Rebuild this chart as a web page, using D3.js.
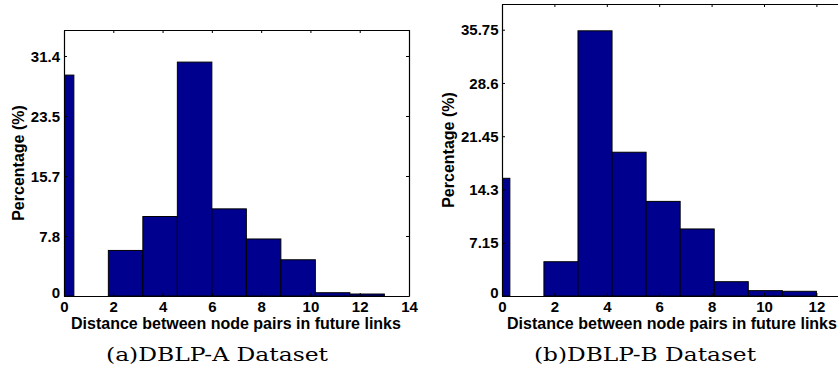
<!DOCTYPE html>
<html><head><meta charset="utf-8">
<script src="https://cdn.jsdelivr.net/npm/d3@7/dist/d3.min.js"></script>
<style>body{margin:0;background:#fff;overflow:hidden}svg{display:block}</style>
</head><body>
<svg id="c" width="838" height="370"></svg>
<script>
// ---- data ----
const binEdgesA = [-1, 0.4, 1.8, 3.2, 4.6, 6.0, 7.4, 8.8, 10.2, 11.6, 13.0];
const valuesA   = [28.9, 0, 5.96, 10.4, 30.6, 11.4, 7.46, 4.74, 0.43, 0.26];
const yTicksA   = [0, 7.85, 15.7, 23.55, 31.4];
const yLabelsA  = ["0", "7.8", "15.7", "23.5", "31.4"];
const xTicksA   = [0, 2, 4, 6, 8, 10, 12, 14];

const binEdgesB = [-1, 0.3, 1.6, 2.9, 4.2, 5.5, 6.8, 8.1, 9.4, 10.7, 12.0];
const valuesB   = [15.8, 0, 4.6, 35.6, 19.3, 12.7, 9.0, 1.92, 0.72, 0.63];
const yTicksB   = [0, 7.15, 14.3, 21.45, 28.6, 35.75];
const yLabelsB  = ["0", "7.15", "14.3", "21.45", "28.6", "35.75"];
const xTicksB   = [0, 2, 4, 6, 8, 10, 12];

const xLabel = "Distance between node pairs in future links";
const yLabel = "Percentage (%)";
const captions = ["(a)DBLP-A Dataset", "(b)DBLP-B Dataset"];

const svg = d3.select("#c");
const FONT = "Liberation Sans, Arial, Helvetica, sans-serif";

function panel(id, cfg) {
  const {left, right, top, bottom, xmax, ymax, edges, vals, yT, yL, xT, cap, capX} = cfg;
  const x = d3.scaleLinear().domain([0, xmax]).range([left, right]);
  const y = d3.scaleLinear().domain([0, ymax]).range([bottom, top]);
  const g = svg.append("g");
  g.append("clipPath").attr("id", id).append("rect")
    .attr("x", left).attr("y", top).attr("width", right - left).attr("height", bottom - top);
  const bins = vals.map((v, i) => ({x0: edges[i], x1: edges[i + 1], v}));
  g.append("g").attr("clip-path", `url(#${id})`).selectAll("rect").data(bins).join("rect")
    .attr("x", d => x(d.x0)).attr("width", d => x(d.x1) - x(d.x0))
    .attr("y", d => y(d.v)).attr("height", d => y(0) - y(d.v))
    .attr("fill", "#00008F").attr("stroke", "#000").attr("stroke-width", 1);

  const ax = g.append("g").attr("transform", `translate(0,${bottom})`)
    .call(d3.axisBottom(x).tickValues(xT).tickSizeInner(-3).tickSizeOuter(0).tickPadding(5.5));
  const ay = g.append("g").attr("transform", `translate(${left},0)`)
    .call(d3.axisLeft(y).tickValues(yT).tickFormat((d, i) => yL[i]).tickSizeInner(-3).tickSizeOuter(0).tickPadding(cfg.yPad));
  const axT = g.append("g").attr("transform", `translate(0,${top})`)
    .call(d3.axisTop(x).tickValues(xT).tickSizeInner(-3).tickSizeOuter(0).tickFormat(""));
  const ayR = g.append("g").attr("transform", `translate(${right},0)`)
    .call(d3.axisRight(y).tickValues(yT).tickSizeInner(-3).tickSizeOuter(0).tickFormat(""));
  [ax, ay, axT, ayR].forEach(a => {
    a.selectAll("path.domain").attr("stroke", "#000").attr("stroke-width", 1.2);
    a.selectAll(".tick line").attr("stroke", "#000");
    a.selectAll("text").attr("font-family", FONT).attr("font-weight", "bold")
      .attr("font-size", 15).attr("fill", "#000");
  });
  ax.selectAll("text").attr("dy", "0.71em");
  ay.selectAll("text").attr("dy", "0.35em");
  ay.selectAll(".tick").filter(d => d === 0).select("text").attr("dy", "0.1em");

  g.append("text").attr("x", cfg.xlabX).attr("y", bottom + 33)
    .attr("text-anchor", "middle").attr("font-family", FONT).attr("font-weight", "bold")
    .attr("font-size", 16).text(xLabel);
  g.append("text").attr("transform", `translate(${cfg.ylabX},${(top + bottom) / 2}) rotate(-90)`)
    .attr("text-anchor", "middle").attr("dy", "0.35em").attr("font-family", FONT).attr("font-weight", "bold")
    .attr("font-size", 16).text(yLabel);
  g.append("text").attr("x", capX).attr("y", 361)
    .attr("text-anchor", "middle").attr("font-family", "DejaVu Serif, serif")
    .attr("font-size", 19).attr("textLength", 222).attr("lengthAdjust", "spacingAndGlyphs").text(cap);
}

panel("clipA", {left: 64, right: 409, top: 30, bottom: 296, xmax: 14, ymax: 34.8,
  edges: binEdgesA, vals: valuesA, yT: yTicksA, yL: yLabelsA, xT: xTicksA, yPad: 4,
  cap: captions[0], capX: 217, xlabX: 236, ylabX: 18});
panel("clipB", {left: 502, right: 502 + 14 * 26.2, top: 4, bottom: 296, xmax: 14, ymax: 39.2,
  edges: binEdgesB, vals: valuesB, yT: yTicksB, yL: yLabelsB, xT: xTicksB, yPad: 3.5,
  cap: captions[1], capX: 645, xlabX: 672, ylabX: 448});
</script>
</body></html>
